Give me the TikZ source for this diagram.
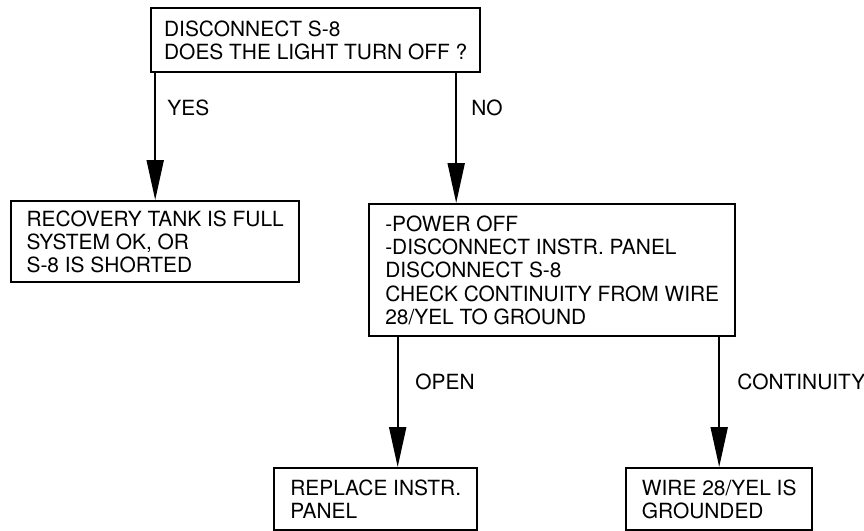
\documentclass[tikz,border=0pt]{standalone}
\usepackage{fontspec}
\setmainfont{TeX Gyre Heros}
\usepackage{tikz}
\usetikzlibrary{arrows.meta}
\definecolor{ChartInk}{HTML}{000000}

\begin{document}
\begin{tikzpicture}[x=0.5pt, y=-0.5pt,
  panel/.style={draw=ChartInk, line width=1.2pt, anchor=north west,
                align=left, inner sep=0pt,
                font=\fontsize{10.45}{11.65}\selectfont},
  lead/.style={-{Triangle[length=20pt, width=8.5pt]}, line width=1pt, draw=ChartInk},
  answer/.style={anchor=west, inner sep=0pt,
                 font=\fontsize{10.45}{11.65}\selectfont}
]
\useasboundingbox (0,0) rectangle (864,531);
\node[panel, minimum width=164.5pt, minimum height=32pt] (q1) at (150,7)
  {DISCONNECT S-8\\DOES THE LIGHT TURN OFF ?};
\node[panel, minimum width=144pt, minimum height=40.5pt] (full) at (10,200)
  {RECOVERY TANK IS FULL\\SYSTEM OK, OR\\S-8 IS SHORTED};
\node[panel, minimum width=183pt, minimum height=66pt] (check) at (368,203)
  {-POWER OFF\\-DISCONNECT INSTR. PANEL\\DISCONNECT S-8\\
   CHECK CONTINUITY FROM WIRE\\28/YEL TO GROUND};
\node[panel, minimum width=101.5pt, minimum height=31pt] (replace) at (273,467)
  {REPLACE INSTR.\\PANEL};
\node[panel, minimum width=93pt, minimum height=31pt] (wire) at (625,467)
  {WIRE 28/YEL IS\\GROUNDED};
% answers
\node[answer] (yes) at (167,108) {YES};
\node[answer] (no) at (471,108) {NO};
\node[answer] (open) at (415,382) {OPEN};
\node[answer] (cont) at (737,382) {CONTINUITY};
\draw[lead] (full.north |- q1.south) -- (full.north);
\draw[lead] ([xshift=-48pt]check.north |- q1.south) -- ([xshift=-48pt]check.north);
\draw[lead] ([xshift=11pt]replace.north |- check.south) -- ([xshift=11pt]replace.north);
\draw[lead] (wire.north |- check.south) -- (wire.north);
\end{tikzpicture}
\end{document}
